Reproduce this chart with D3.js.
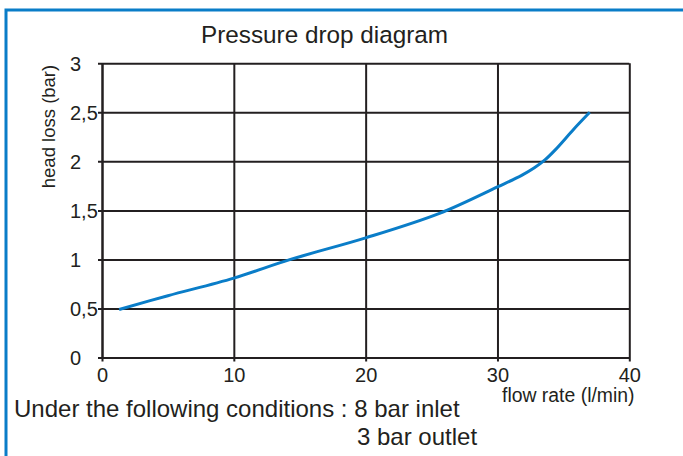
<!DOCTYPE html>
<html>
<head>
<meta charset="utf-8">
<script src="https://cdn.jsdelivr.net/npm/d3@7"></script>
<style>
  body { margin: 0; background: #fff; }
  svg { display: block; font-family: "Liberation Sans", Arial, sans-serif; }
</style>
</head>
<body>
<div id="chart"></div>
<script>
// values
const flowRate = [1.3, 5, 10, 14.3, 20, 25.6, 30, 31.8, 32.8, 33.6, 34.4, 35.8, 37];
const headLoss = [0.49, 0.63, 0.81, 1.0, 1.22, 1.47, 1.74, 1.855, 1.935, 2.015, 2.12, 2.33, 2.5];
const xTicks = [0, 10, 20, 30, 40];
const yTicks = [0, 0.5, 1, 1.5, 2, 2.5, 3];

const width = 683, height = 456;
const ink = "#231f20";
const blue = "#0a7dc8";

const svg = d3.select("#chart")
  .append("svg")
  .attr("width", width)
  .attr("height", height);

// blue frame (top + left only)
svg.append("path")
  .attr("d", `M${width},10H6V${height}`)
  .attr("fill", "none")
  .attr("stroke", blue)
  .attr("stroke-width", 3);

const x = d3.scaleLinear().domain([0, 40]).range([102, 629.3]);
const y = d3.scaleLinear().domain([0, 3]).range([357.5, 63.3]);

const plotW = x(40) - x(0);
const plotH = y(0) - y(3);

// horizontal grid + y axis
const gy = svg.append("g")
  .attr("transform", `translate(${x(0)},0)`)
  .call(d3.axisLeft(y)
    .tickValues(yTicks)
    .tickSize(-plotW)
    .tickSizeOuter(0)
    .tickFormat((d) => String(d).replace(".", ",")))
  .attr("font-size", 20)
  .attr("font-family", "'Liberation Sans', Arial, sans-serif");
gy.selectAll("line").attr("x1", -4).attr("stroke", ink).attr("stroke-width", 2);
gy.select(".domain").attr("stroke", ink).attr("stroke-width", 2);
gy.selectAll("text")
  .attr("x", 70 - x(0))
  .attr("text-anchor", "start")
  .attr("dy", "0.36em")
  .attr("fill", ink);

// vertical grid + x axis
const gx = svg.append("g")
  .attr("transform", `translate(0,${y(0)})`)
  .call(d3.axisBottom(x)
    .tickValues(xTicks)
    .tickSize(-plotH)
    .tickSizeOuter(0)
    .tickFormat(d3.format("d")))
  .attr("font-size", 20)
  .attr("font-family", "'Liberation Sans', Arial, sans-serif");
gx.selectAll("line").attr("y1", 4).attr("stroke", ink).attr("stroke-width", 2);
gx.select(".domain").attr("stroke", ink).attr("stroke-width", 2);
gx.selectAll("text")
  .attr("y", 24.5)
  .attr("dy", 0)
  .attr("fill", ink);

// the curve
const pts = flowRate.map((f, i) => [f, headLoss[i]]);
svg.append("path")
  .datum(pts)
  .attr("fill", "none")
  .attr("stroke", blue)
  .attr("stroke-width", 3)
  .attr("d", d3.line()
    .x((d) => x(d[0]))
    .y((d) => y(d[1]))
    .curve(d3.curveCatmullRom.alpha(0.5)));

// title
svg.append("text")
  .attr("x", 324.5)
  .attr("y", 42.5)
  .attr("text-anchor", "middle")
  .attr("fill", ink)
  .style("font-size", "24.3px")
  .text("Pressure drop diagram");

// axis titles
svg.append("text")
  .attr("transform", `translate(55,126.5) rotate(-90)`)
  .attr("text-anchor", "middle")
  .attr("fill", ink)
  .style("font-size", "18.5px")
  .text("head loss (bar)");

svg.append("text")
  .attr("x", 502)
  .attr("y", 401.5)
  .attr("fill", ink)
  .style("font-size", "19.4px")
  .text("flow rate (l/min)");

// conditions note
svg.append("text")
  .attr("x", 14)
  .attr("y", 417)
  .attr("fill", ink)
  .style("font-size", "24px")
  .text("Under the following conditions : 8 bar inlet");

svg.append("text")
  .attr("x", 357)
  .attr("y", 445)
  .attr("fill", ink)
  .style("font-size", "24px")
  .text("3 bar outlet");
</script>
</body>
</html>
